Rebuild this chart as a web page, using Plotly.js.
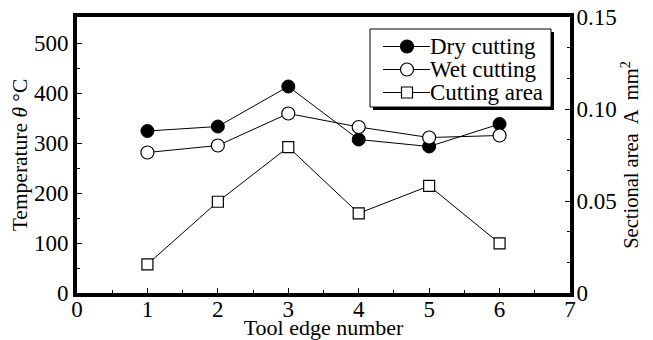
<!DOCTYPE html>
<html><head><meta charset="utf-8">
<script src="https://cdn.plot.ly/plotly-3.0.1.min.js"></script>
<style>body{margin:0;padding:0;background:#fff}#chart{width:653px;height:340px}</style>
</head><body><div id="chart"></div>
<script>
const toolEdge = [1, 2, 3, 4, 5, 6];
const dryTemp = [324, 333, 413, 307, 293, 338];
const wetTemp = [281, 295, 359, 332, 311, 315];
const cuttingArea = [0.0156, 0.0496, 0.0793, 0.0433, 0.0582, 0.027];
const seriesNames = ['Dry cutting', 'Wet cutting', 'Cutting area'];

const F = '"Liberation Serif", "Times New Roman", Times, serif';
const M = {l: 77, r: 83, t: 17, b: 47};
const W = 653, H = 340;
const pw = W - M.l - M.r, ph = H - M.t - M.b;
const px = v => (v - M.l) / pw;          // page px -> paper x
const py = v => (H - M.b - v) / ph;      // page px -> paper y

const traces = [
  {x: toolEdge, y: dryTemp, name: seriesNames[0], type: 'scatter', mode: 'lines+markers', showlegend: false,
   line: {color: '#000', width: 1}, marker: {symbol: 'circle', size: 13, color: '#000', line: {color: '#000', width: 1}}},
  {x: toolEdge, y: wetTemp, name: seriesNames[1], type: 'scatter', mode: 'lines+markers', showlegend: false,
   line: {color: '#000', width: 1}, marker: {symbol: 'circle', size: 13, color: '#fff', line: {color: '#000', width: 1.2}}},
  {x: toolEdge, y: cuttingArea, name: seriesNames[2], type: 'scatter', mode: 'lines+markers', yaxis: 'y2', showlegend: false,
   line: {color: '#000', width: 1}, marker: {symbol: 'square', size: 11, color: '#fff', line: {color: '#000', width: 1.2}}}
];

// custom legend (box with drop shadow, like the reference)
const shapes = [
  {type: 'rect', xref: 'paper', yref: 'paper', x0: px(373), x1: px(554), y0: py(110), y1: py(32),
   fillcolor: '#000', line: {width: 0}, layer: 'above'},
  {type: 'rect', xref: 'paper', yref: 'paper', x0: px(370), x1: px(551), y0: py(107), y1: py(29),
   fillcolor: '#fff', line: {color: '#000', width: 1}, layer: 'above'}
];
const annotations = [];
const rowY = [46.5, 69.5, 92.5];
const markerSpec = [
  {kind: 'circle', fill: '#000', r: 6.5},
  {kind: 'circle', fill: '#fff', r: 6.5},
  {kind: 'rect', fill: '#fff', r: 5.5}
];
seriesNames.forEach((nm, i) => {
  const yy = py(rowY[i]);
  shapes.push({type: 'line', xref: 'paper', yref: 'paper', x0: px(383), x1: px(430), y0: yy, y1: yy,
    line: {color: '#000', width: 1}, layer: 'above'});
  const s = markerSpec[i];
  shapes.push({type: s.kind, xref: 'paper', yref: 'paper', xsizemode: 'pixel', ysizemode: 'pixel',
    xanchor: px(407), yanchor: yy, x0: -s.r, x1: s.r, y0: -s.r, y1: s.r,
    fillcolor: s.fill, line: {color: '#000', width: 1.2}, layer: 'above'});
  annotations.push({xref: 'paper', yref: 'paper', x: px(429), y: yy, xanchor: 'left', yanchor: 'middle',
    text: nm, showarrow: false, borderpad: 0, font: {family: F, size: 23, color: '#000'}});
});

const layout = {
  width: W, height: H,
  margin: M,
  paper_bgcolor: '#fff', plot_bgcolor: 'rgba(0,0,0,0)',
  font: {family: F, size: 23, color: '#000'},
  showlegend: false,
  xaxis: {range: [0, 7], dtick: 1, tick0: 0, showgrid: false, zeroline: false,
    showline: true, linecolor: '#000', linewidth: 4, mirror: true,
    ticks: 'inside', ticklen: 5, tickwidth: 1, tickcolor: '#000',
    minor: {dtick: 0.5, ticks: 'inside', ticklen: 3, tickwidth: 1, tickcolor: '#000'},
    tickfont: {family: F, size: 23}, ticklabelstandoff: -8,
    title: {text: 'Tool edge number', font: {family: F, size: 22}, standoff: 8}},
  yaxis: {range: [0, 552], dtick: 100, tick0: 0, showgrid: false, zeroline: false,
    showline: true, linecolor: '#000', linewidth: 4,
    ticks: 'inside', ticklen: 5, tickwidth: 1, tickcolor: '#000',
    minor: {dtick: 50, ticks: 'inside', ticklen: 3, tickwidth: 1, tickcolor: '#000'},
    tickfont: {family: F, size: 23},
    title: {text: 'Temperature <i>θ</i> °C', font: {family: F, size: 21.5}, standoff: 1}},
  yaxis2: {overlaying: 'y', side: 'right', range: [0, 0.15], tickvals: [0, 0.05, 0.1, 0.15],
    ticktext: ['0', '0.05', '0.10', '0.15'], showgrid: false, zeroline: false,
    showline: true, linecolor: '#000', linewidth: 4,
    ticks: 'inside', ticklen: 5, tickwidth: 1, tickcolor: '#000',
    minor: {dtick: 0.05 / 3, tick0: 0, ticks: 'inside', ticklen: 3, tickwidth: 1, tickcolor: '#000'},
    tickfont: {family: F, size: 23}, ticklabelstandoff: -2,
    title: {text: 'Sectional area  A  mm<sup>2</sup>', font: {family: F, size: 20.5}, standoff: 8}},
  shapes: shapes,
  annotations: annotations
};
Plotly.newPlot('chart', traces, layout, {displayModeBar: false, staticPlot: true});
</script></body></html>
